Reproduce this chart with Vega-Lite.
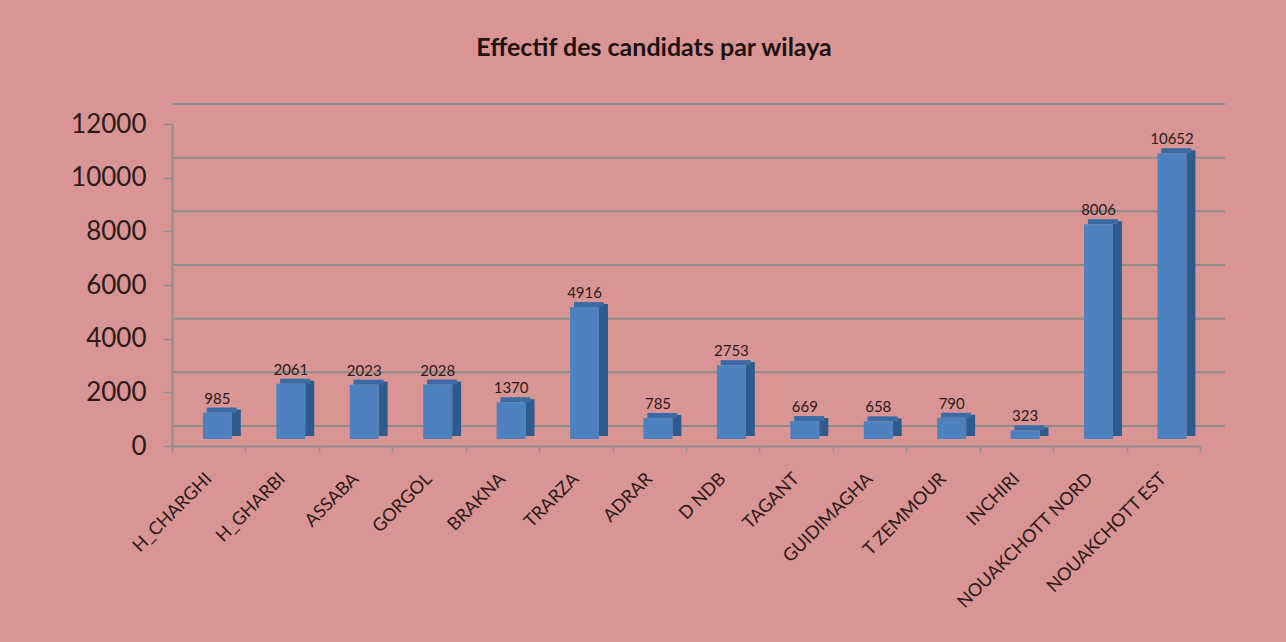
{
  "$schema": "https://vega.github.io/schema/vega-lite/v6.json",
  "width": 1028,
  "height": 322,
  "autosize": {"type": "none"},
  "padding": {"left": 172, "top": 124, "right": 86, "bottom": 196},
  "background": "#D99594",
  "title": {
    "text": "Effectif des candidats par wilaya",
    "font": "Lato",
    "fontSize": 25,
    "fontWeight": "bold",
    "color": "#1E1212",
    "anchor": "middle",
    "offset": 42,
    "dx": -32
  },
  "config": {
    "view": {"stroke": null},
    "axisX": {
      "title": null,
      "domainColor": "#8E8E8E",
      "domainWidth": 2,
      "tickColor": "#8E8E8E",
      "tickWidth": 1.5,
      "tickSize": 6,
      "tickBand": "extent",
      "labelAngle": -45,
      "labelAlign": "right",
      "labelBaseline": "middle",
      "labelFont": "Lato",
      "labelFontSize": 18,
      "labelColor": "#2B1B1B",
      "labelPadding": 24,
      "labelLimit": 0
    },
    "axisY": {
      "title": null,
      "grid": false,
      "domainColor": "#8E8E8E",
      "domainWidth": 2,
      "tickColor": "#8E8E8E",
      "tickWidth": 1.5,
      "tickSize": 9,
      "labelFont": "Lato",
      "labelFontSize": 26,
      "labelColor": "#2B1B1B",
      "labelPadding": 17
    }
  },
  "data": {
    "values": [
      {"wilaya": "H_CHARGHI", "v": 985},
      {"wilaya": "H_GHARBI", "v": 2061},
      {"wilaya": "ASSABA", "v": 2023},
      {"wilaya": "GORGOL", "v": 2028},
      {"wilaya": "BRAKNA", "v": 1370},
      {"wilaya": "TRARZA", "v": 4916},
      {"wilaya": "ADRAR", "v": 785},
      {"wilaya": "D NDB", "v": 2753},
      {"wilaya": "TAGANT", "v": 669},
      {"wilaya": "GUIDIMAGHA", "v": 658},
      {"wilaya": "T ZEMMOUR", "v": 790},
      {"wilaya": "INCHIRI", "v": 323},
      {"wilaya": "NOUAKCHOTT NORD", "v": 8006},
      {"wilaya": "NOUAKCHOTT EST", "v": 10652}
    ]
  },
  "encoding": {
    "x": {"field": "wilaya", "type": "nominal", "sort": null, "scale": {"paddingInner": 0, "paddingOuter": 0}},
    "y": {
      "field": "v",
      "type": "quantitative",
      "scale": {"domain": [0, 12000], "nice": false},
      "axis": {"values": [0, 2000, 4000, 6000, 8000, 10000, 12000], "format": "d"}
    }
  },
  "layer": [
    {
      "data": {"values": [{"g": 0}, {"g": 2000}, {"g": 4000}, {"g": 6000}, {"g": 8000}, {"g": 10000}, {"g": 12000}]},
      "mark": {"type": "rule", "color": "#8C8C8C", "opacity": 1, "strokeWidth": 2, "xOffset": 25, "yOffset": -20},
      "encoding": {
        "x": null,
        "y": {"field": "g", "type": "quantitative"}
      }
    },
    {
      "mark": {"type": "bar", "size": 9, "color": "#2E5A8C", "opacity": 1, "xOffset": 27.6, "yOffset": -10, "y2Offset": -9}
    },
    {
      "mark": {"type": "tick", "size": 30, "thickness": 5, "color": "#3B6BA5", "opacity": 1, "xOffset": 13, "yOffset": -9.5}
    },
    {
      "mark": {"type": "bar", "size": 29, "color": "#4D81C0", "opacity": 1, "xOffset": 8.7, "yOffset": -7, "y2Offset": -7}
    },
    {
      "mark": {"type": "text", "font": "Lato", "fontSize": 15, "color": "#2B1B1B", "xOffset": 8.7, "yOffset": -21, "baseline": "middle"},
      "encoding": {"text": {"field": "v", "type": "quantitative"}}
    }
  ]
}
